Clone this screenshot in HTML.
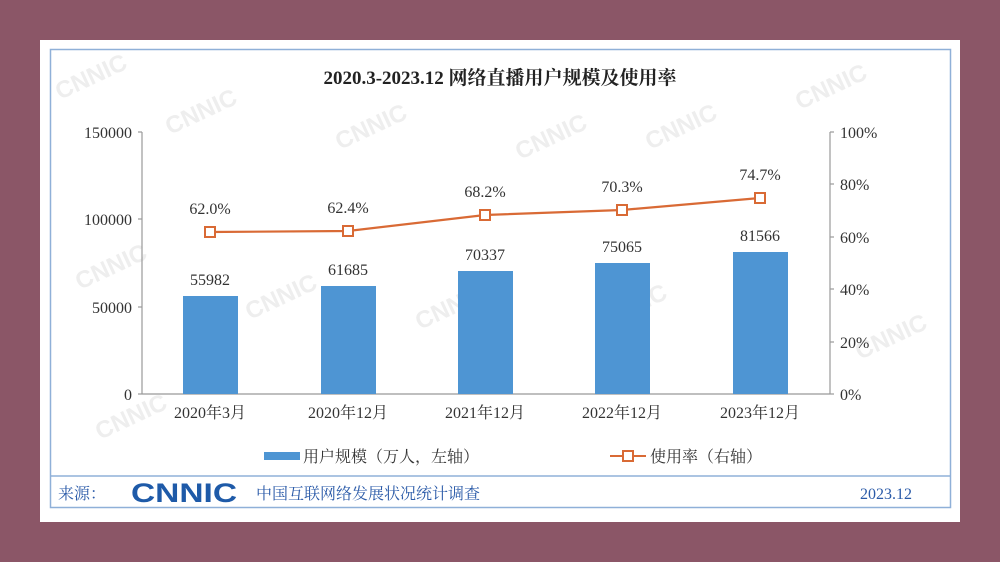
<!DOCTYPE html>
<html><head><meta charset="utf-8"><style>
body{margin:0;width:1000px;height:562px;background:#8b5667;overflow:hidden}
svg{display:block}
text{font-family:"Liberation Serif","Noto Serif CJK SC",serif;fill:#333}
text.wm{font-family:"Liberation Sans",sans-serif;font-weight:bold;fill:#eeeeee;font-size:24px}
</style></head><body>
<svg width="1000" height="562" xmlns="http://www.w3.org/2000/svg">
<rect x="40" y="40" width="920" height="482" fill="#fff"/>
<rect x="50.5" y="49.5" width="900" height="458" fill="none" stroke="#8fb0d8" stroke-width="1.5"/>
<line x1="51" y1="476" x2="950" y2="476" stroke="#8fb0d8" stroke-width="1.5"/>
<g>
<text class="wm" x="60" y="100" transform="rotate(-25 60 100)">CNNIC</text>
<text class="wm" x="170" y="135" transform="rotate(-25 170 135)">CNNIC</text>
<text class="wm" x="340" y="150" transform="rotate(-25 340 150)">CNNIC</text>
<text class="wm" x="520" y="160" transform="rotate(-25 520 160)">CNNIC</text>
<text class="wm" x="650" y="150" transform="rotate(-25 650 150)">CNNIC</text>
<text class="wm" x="800" y="110" transform="rotate(-25 800 110)">CNNIC</text>
<text class="wm" x="250" y="320" transform="rotate(-25 250 320)">CNNIC</text>
<text class="wm" x="420" y="330" transform="rotate(-25 420 330)">CNNIC</text>
<text class="wm" x="600" y="330" transform="rotate(-25 600 330)">CNNIC</text>
<text class="wm" x="860" y="360" transform="rotate(-25 860 360)">CNNIC</text>
<text class="wm" x="80" y="290" transform="rotate(-25 80 290)">CNNIC</text>
<text class="wm" x="100" y="440" transform="rotate(-25 100 440)">CNNIC</text>
</g>
<text x="500" y="84" text-anchor="middle" font-size="19" font-weight="bold" style="fill:#222">2020.3-2023.12 网络直播用户规模及使用率</text>
<g stroke="#999" stroke-width="1.2">
<line x1="142" y1="132" x2="142" y2="394"/><line x1="142" y1="394" x2="830" y2="394"/>
<line x1="830" y1="132" x2="830" y2="394"/>
<line x1="138" y1="132" x2="142" y2="132"/><line x1="138" y1="219" x2="142" y2="219"/><line x1="138" y1="307" x2="142" y2="307"/><line x1="138" y1="394" x2="142" y2="394"/>
<line x1="830" y1="132" x2="834" y2="132"/><line x1="830" y1="184" x2="834" y2="184"/><line x1="830" y1="237" x2="834" y2="237"/><line x1="830" y1="289" x2="834" y2="289"/><line x1="830" y1="342" x2="834" y2="342"/><line x1="830" y1="394" x2="834" y2="394"/>
</g>
<g font-size="16" text-anchor="end">
<text x="132" y="138">150000</text><text x="132" y="225">100000</text><text x="132" y="313">50000</text><text x="132" y="400">0</text>
</g>
<g font-size="16">
<text x="840" y="138">100%</text><text x="840" y="190">80%</text><text x="840" y="243">60%</text><text x="840" y="295">40%</text><text x="840" y="348">20%</text><text x="840" y="400">0%</text>
</g>
<g fill="#4e95d3">
<rect x="183" y="296" width="55" height="98"/>
<rect x="321" y="286" width="55" height="108"/>
<rect x="458" y="271" width="55" height="123"/>
<rect x="595" y="263" width="55" height="131"/>
<rect x="733" y="252" width="55" height="142"/>
</g>
<g font-size="16" text-anchor="middle">
<text x="210" y="285">55982</text><text x="348" y="275">61685</text><text x="485" y="260">70337</text><text x="622" y="252">75065</text><text x="760" y="241">81566</text>
<text x="210" y="214">62.0%</text><text x="348" y="213">62.4%</text><text x="485" y="197">68.2%</text><text x="622" y="192">70.3%</text><text x="760" y="180">74.7%</text>
<text x="210" y="418">2020年3月</text><text x="348" y="418">2020年12月</text><text x="485" y="418">2021年12月</text><text x="622" y="418">2022年12月</text><text x="760" y="418">2023年12月</text>
</g>
<polyline points="210,232 348,231 485,215 622,210 760,198" fill="none" stroke="#d96a35" stroke-width="2.2"/>
<g fill="#fff" stroke="#d96a35" stroke-width="2">
<rect x="205" y="227" width="10" height="10"/><rect x="343" y="226" width="10" height="10"/><rect x="480" y="210" width="10" height="10"/><rect x="617" y="205" width="10" height="10"/><rect x="755" y="193" width="10" height="10"/>
</g>
<rect x="264" y="452" width="36" height="8" fill="#4e95d3"/>
<text x="303" y="462" font-size="16">用户规模（万人，左轴）</text>
<line x1="610" y1="456" x2="646" y2="456" stroke="#d96a35" stroke-width="2"/>
<rect x="623" y="451" width="10" height="10" fill="#fff" stroke="#d96a35" stroke-width="2"/>
<text x="650" y="462" font-size="16">使用率（右轴）</text>
<text x="58" y="499" font-size="16" style="fill:#2a5aa8">来源：</text>
<text x="131" y="502" font-size="27" font-weight="bold" textLength="106" lengthAdjust="spacingAndGlyphs" style="font-family:'Liberation Sans',sans-serif;fill:#1e5aa8">CNNIC</text>
<text x="256" y="499" font-size="16" style="fill:#2a5aa8">中国互联网络发展状况统计调查</text>
<text x="912" y="499" font-size="16" text-anchor="end" style="fill:#2a5aa8">2023.12</text>
</svg>
</body></html>
